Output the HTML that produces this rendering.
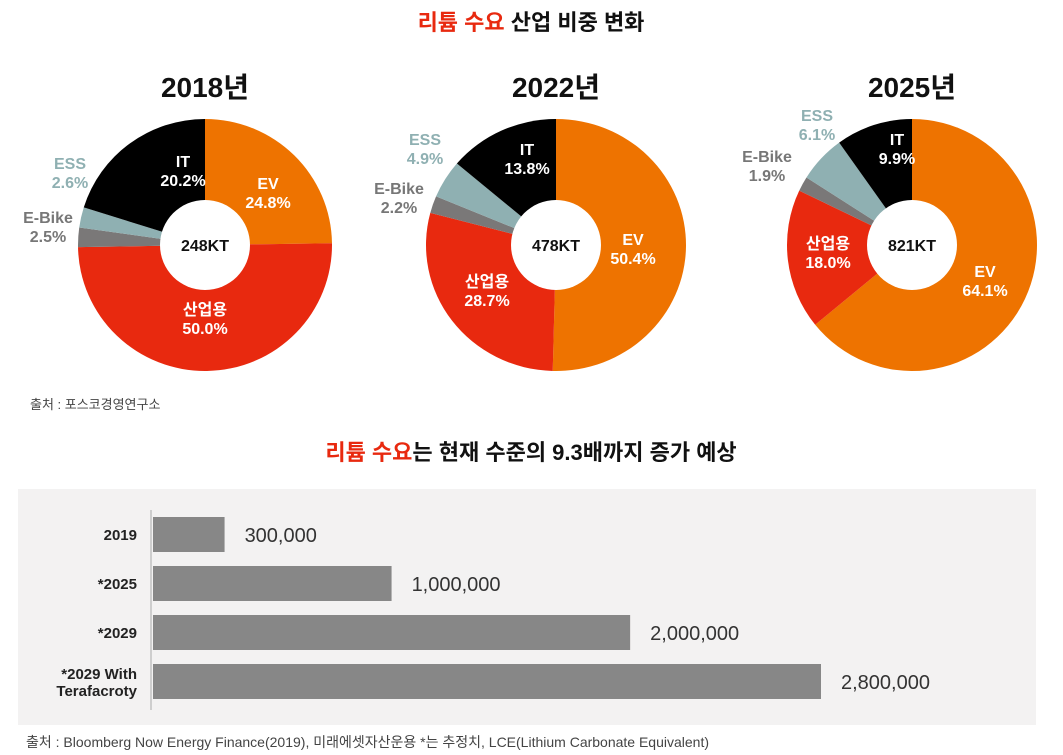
<!DOCTYPE html>
<html><head><meta charset="utf-8">
<style>
html,body{margin:0;padding:0;background:#fff;}
svg{display:block;font-family:"Liberation Sans","Noto Sans CJK KR",sans-serif;}
</style></head>
<body>
<svg id="chart" width="1063" height="755" viewBox="0 0 1063 755" xmlns="http://www.w3.org/2000/svg">
<text x="531" y="30" text-anchor="middle" font-size="22" font-weight="bold" fill="#111"><tspan fill="#e8290f">리튬 수요</tspan> 산업 비중 변화</text>
<text x="30" y="409" font-size="13" fill="#444">출처 : 포스코경영연구소</text>
<text x="531" y="460" text-anchor="middle" font-size="22" font-weight="bold" fill="#111"><tspan fill="#e8290f">리튬 수요</tspan>는 현재 수준의 9.3배까지 증가 예상</text>
<rect x="18" y="489" width="1018" height="236" fill="#f3f2f2"/>
<line x1="151" y1="510" x2="151" y2="710" stroke="#aaa" stroke-width="1"/>
<g id="donuts"></g>
<g id="bars"></g>
<text x="26" y="747" font-size="14" fill="#444">출처 : Bloomberg Now Energy Finance(2019), 미래에셋자산운용 *는 추정치, LCE(Lithium Carbonate Equivalent)</text>
</svg>
<script>
const segNames = ["EV","산업용","E-Bike","ESS","IT"];
const years = ["2018년","2022년","2025년"];
const totals = ["248KT","478KT","821KT"];
const share2018 = [24.8,50.0,2.5,2.6,20.2];
const share2022 = [50.4,28.7,2.2,4.9,13.8];
const share2025 = [64.1,18.0,1.9,6.1,9.9];
const barCats = ["2019","*2025","*2029","*2029 With|Terafacroty"];
const barVals = [300000,1000000,2000000,2800000];
const barLabels = ["300,000","1,000,000","2,000,000","2,800,000"];

const NS="http://www.w3.org/2000/svg";
const svg=document.getElementById('chart');
function mk(t,a,p){const e=document.createElementNS(NS,t);for(const k in a)e.setAttribute(k,a[k]);(p||svg).appendChild(e);return e;}
const colors=["#ee7300","#e8290f","#7a7878","#8fb0b2","#000000"];
const labelFill=["#fff","#fff","#777","#8fb0b2","#fff"];
const geo=[{cx:205,cy:245,rx:127,ry:126},{cx:556,cy:245,rx:130,ry:126},{cx:912,cy:245,rx:125,ry:126}];
const labelPos=[
 [[268,192],[205,318],[48,226],[70,172],[183,170]],
 [[633,248],[487,290],[399,197],[425,148],[527,158]],
 [[985,280],[828,252],[767,165],[817,124],[897,148]]];
const shares=[share2018,share2022,share2025];
const dg=document.getElementById('donuts');
shares.forEach((s,i)=>{
  const g=geo[i];
  const sum=s.reduce((a,b)=>a+b,0);
  let cum=0;
  const t=mk('text',{x:g.cx,y:97,'text-anchor':'middle','font-size':28,'font-weight':'bold',fill:'#111'},dg);
  
  
  t.textContent=years[i];
  s.forEach((v,j)=>{
    const a0=cum/sum*2*Math.PI; cum+=v; const a1=cum/sum*2*Math.PI;
    const x0=g.cx+g.rx*Math.sin(a0), y0=g.cy-g.ry*Math.cos(a0);
    const x1=g.cx+g.rx*Math.sin(a1), y1=g.cy-g.ry*Math.cos(a1);
    const large=(a1-a0)>Math.PI?1:0;
    const p=mk('path',{d:`M${g.cx},${g.cy} L${x0},${y0} A${g.rx},${g.ry} 0 ${large} 1 ${x1},${y1} Z`,fill:colors[j]},dg);
    
    
    const lp=labelPos[i][j];
    const lt=mk('text',{x:lp[0],y:lp[1]-3,'text-anchor':'middle','font-size':16,'font-weight':'bold',fill:labelFill[j]},dg);
    
    
    lt.textContent=segNames[j];
    const lv=mk('text',{x:lp[0],y:lp[1]+16,'text-anchor':'middle','font-size':16,'font-weight':'bold',fill:labelFill[j]},dg);
    
    
    lv.textContent=v.toFixed(1)+'%';
  });
  const h=mk('ellipse',{cx:g.cx,cy:g.cy,rx:45,ry:45,fill:'#fff'},dg);
  
  
  const ct=mk('text',{x:g.cx,y:g.cy+6,'text-anchor':'middle','font-size':16,'font-weight':'bold',fill:'#111'},dg);
  
  
  ct.textContent=totals[i];
});
const bg=document.getElementById('bars');
const x0=153, xMax=2800000, xEnd=821;
function xs(v){return x0+(v/xMax)*(xEnd-x0);}
barVals.forEach((v,i)=>{
  const y=517+i*49;
  const r=mk('rect',{x:x0,y:y,width:xs(v)-x0,height:35,fill:'#878787'},bg);
  
  
  const vt=mk('text',{x:xs(v)+20,y:y+25,'font-size':20,fill:'#333'},bg);
  
  
  vt.textContent=barLabels[i];
  const lines=barCats[i].split('|');
  lines.forEach((ln,k)=>{
    const off=lines.length===1?23:(15+k*17);
    const ct=mk('text',{x:137,y:y+off,'text-anchor':'end','font-size':15,'font-weight':'bold',fill:'#222'},bg);
    
    
    ct.textContent=ln;
  });
});
</script>
</body></html>
